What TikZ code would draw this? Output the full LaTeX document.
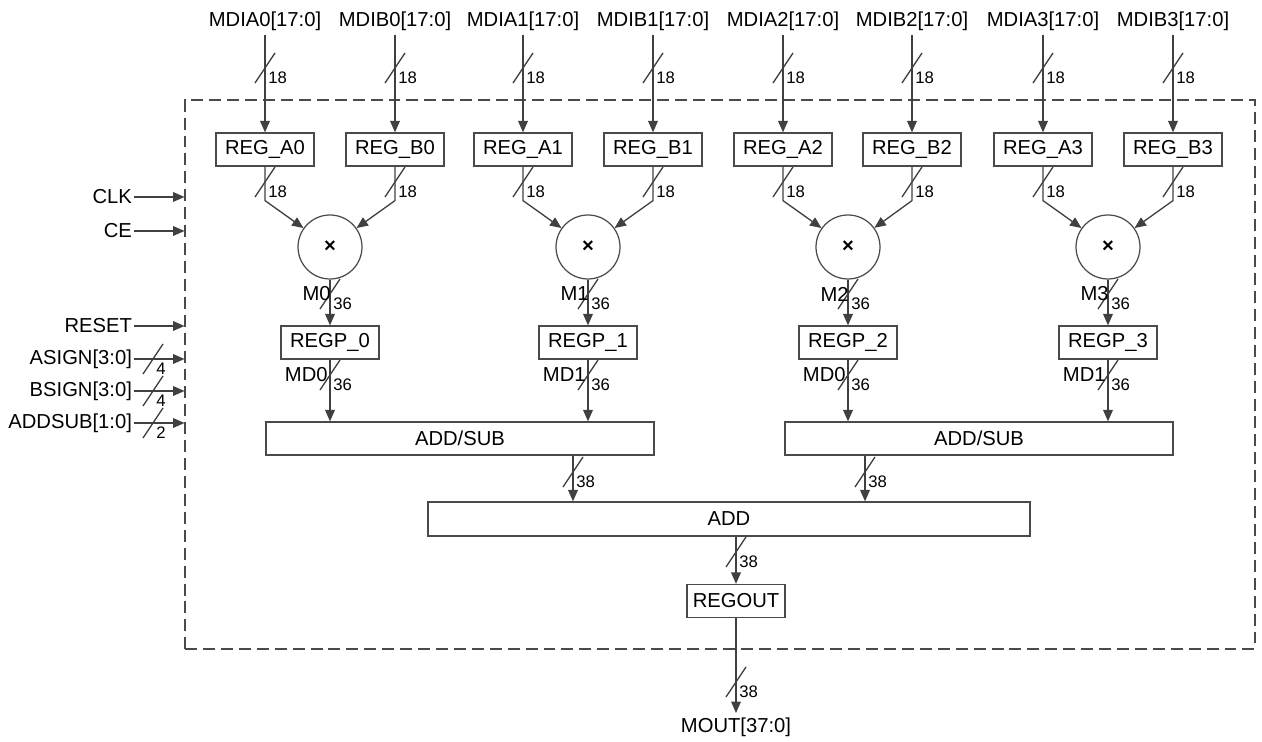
\documentclass[tikz,border=0pt]{standalone}
\usepackage{fontspec}
\setmainfont{Liberation Sans}
\usetikzlibrary{arrows.meta,calc,positioning}
\definecolor{wiregray}{HTML}{404040}
\definecolor{boxgray}{HTML}{4A4A4A}

\tikzset{
  wire/.style={draw=wiregray,line width=0.75pt},
  sig/.style={wire,-{Triangle[length=6.5pt,width=5.5pt]}},
  reg/.style={draw=boxgray,line width=0.7pt,minimum width=1.96cm,minimum height=0.66cm,inner sep=1pt},
  bar/.style={draw=boxgray,line width=0.7pt,minimum height=0.66cm,inner sep=1pt},
  mult/.style={circle,draw=boxgray,line width=0.7pt,minimum size=1.28cm,inner sep=0pt},
  pin/.style={inner sep=2.5pt},
  tag/.style={inner sep=0pt,anchor=east},
  bw/.style={font=\fontsize{9.5}{11}\selectfont,inner sep=0pt,anchor=west},
}
% bus slash with its width: name, x, y, width
\newcommand{\busw}[4]{%
  \draw[wire] (#2-10,#3+15) -- (#2+10,#3-15);
  \node[bw] (#1) at (#2+3,#3+10) {#4};}

\begin{document}
\begin{tikzpicture}[x=0.02cm,y=-0.02cm,font=\fontsize{11.5}{13.5}\selectfont]
  \useasboundingbox (0,0) rectangle (1262,742);

  \node[draw=boxgray,line width=0.7pt,dash pattern=on 6.8pt off 3.4pt,
        minimum width=21.4cm,minimum height=10.98cm,inner sep=0pt] (core) at (720,374.5) {};

  % inputs
  \node[pin,anchor=south] (ina0) at (265,35) {MDIA0[17:0]};
  \node[pin,anchor=south] (inb0) at (395,35) {MDIB0[17:0]};
  \node[pin,anchor=south] (ina1) at (523,35) {MDIA1[17:0]};
  \node[pin,anchor=south] (inb1) at (653,35) {MDIB1[17:0]};
  \node[pin,anchor=south] (ina2) at (783,35) {MDIA2[17:0]};
  \node[pin,anchor=south] (inb2) at (912,35) {MDIB2[17:0]};
  \node[pin,anchor=south] (ina3) at (1043,35) {MDIA3[17:0]};
  \node[pin,anchor=south] (inb3) at (1173,35) {MDIB3[17:0]};

  \node[reg] (rega0) at (265,149.5) {REG\_A0};
  \node[reg] (regb0) at (395,149.5) {REG\_B0};
  \node[reg] (rega1) at (523,149.5) {REG\_A1};
  \node[reg] (regb1) at (653,149.5) {REG\_B1};
  \node[reg] (rega2) at (783,149.5) {REG\_A2};
  \node[reg] (regb2) at (912,149.5) {REG\_B2};
  \node[reg] (rega3) at (1043,149.5) {REG\_A3};
  \node[reg] (regb3) at (1173,149.5) {REG\_B3};

  \node[mult] (mul0) at (330,247) {\textbf{×}};
  \node[mult] (mul1) at (588,247) {\textbf{×}};
  \node[mult] (mul2) at (848,247) {\textbf{×}};
  \node[mult] (mul3) at (1108,247) {\textbf{×}};

  \node[reg] (regp0) at (330,342.5) {REGP\_0};
  \node[reg] (regp1) at (588,342.5) {REGP\_1};
  \node[reg] (regp2) at (848,342.5) {REGP\_2};
  \node[reg] (regp3) at (1108,342.5) {REGP\_3};

  \node[bar,minimum width=7.76cm] (addsub0) at (460,438.5) {ADD/SUB};
  \node[bar,minimum width=7.76cm] (addsub1) at (979,438.5) {ADD/SUB};
  \node[bar,minimum width=12.04cm,minimum height=0.68cm] (add) at (729,519) {ADD};
  \node[reg] (regout) at (736,601) {REGOUT};
  \node[pin,anchor=north] (mout) at (736,713) {MOUT[37:0]};

  % input wires
  \draw[sig] (ina0) -- (rega0);
  \draw[sig] (inb0) -- (regb0);
  \draw[sig] (ina1) -- (rega1);
  \draw[sig] (inb1) -- (regb1);
  \draw[sig] (ina2) -- (rega2);
  \draw[sig] (inb2) -- (regb2);
  \draw[sig] (ina3) -- (rega3);
  \draw[sig] (inb3) -- (regb3);

  \draw[sig] (rega0.south) -- ++(0,34) -- (mul0);
  \draw[sig] (regb0.south) -- ++(0,34) -- (mul0);
  \draw[sig] (rega1.south) -- ++(0,34) -- (mul1);
  \draw[sig] (regb1.south) -- ++(0,34) -- (mul1);
  \draw[sig] (rega2.south) -- ++(0,34) -- (mul2);
  \draw[sig] (regb2.south) -- ++(0,34) -- (mul2);
  \draw[sig] (rega3.south) -- ++(0,34) -- (mul3);
  \draw[sig] (regb3.south) -- ++(0,34) -- (mul3);

  \draw[sig] (mul0) -- (regp0);
  \draw[sig] (mul1) -- (regp1);
  \draw[sig] (mul2) -- (regp2);
  \draw[sig] (mul3) -- (regp3);

  \draw[sig] (regp0) -- (regp0 |- addsub0.north);
  \draw[sig] (regp1) -- (regp1 |- addsub0.north);
  \draw[sig] (regp2) -- (regp2 |- addsub1.north);
  \draw[sig] (regp3) -- (regp3 |- addsub1.north);

  \draw[sig] ([xshift=2.26cm]addsub0.south) -- ([xshift=2.26cm]addsub0.south |- add.north);
  \draw[sig] ([xshift=-2.28cm]addsub1.south) -- ([xshift=-2.28cm]addsub1.south |- add.north);
  \draw[sig] (add.south -| regout) -- (regout);
  \draw[sig] (regout) -- (mout);

  % bus widths
  \busw{wa0}{265}{68}{18} \busw{wb0}{395}{68}{18}
  \busw{wa1}{523}{68}{18} \busw{wb1}{653}{68}{18}
  \busw{wa2}{783}{68}{18} \busw{wb2}{912}{68}{18}
  \busw{wa3}{1043}{68}{18} \busw{wb3}{1173}{68}{18}
  \busw{ra0}{265}{182}{18} \busw{rb0}{395}{182}{18}
  \busw{ra1}{523}{182}{18} \busw{rb1}{653}{182}{18}
  \busw{ra2}{783}{182}{18} \busw{rb2}{912}{182}{18}
  \busw{ra3}{1043}{182}{18} \busw{rb3}{1173}{182}{18}
  \busw{wm0}{330}{294}{36} \busw{wm1}{588}{294}{36}
  \busw{wm2}{848}{294}{36} \busw{wm3}{1108}{294}{36}
  \busw{wp0}{330}{375}{36} \busw{wp1}{588}{375}{36}
  \busw{wp2}{848}{375}{36} \busw{wp3}{1108}{375}{36}
  \busw{ws0}{573}{472}{38} \busw{ws1}{865}{472}{38}
  \busw{wadd}{736}{552}{38} \busw{wout}{736}{682}{38}

  \node[tag] (m0) at (331,294) {M0};
  \node[tag] (m1) at (589,294) {M1};
  \node[tag] (m2) at (849,294) {M2};
  \node[tag] (m3) at (1109,294) {M3};
  \node[tag] (md0) at (328,375) {MD0};
  \node[tag] (md1) at (586,375) {MD1};
  \node[tag] (md2) at (846,375) {MD0};
  \node[tag] (md3) at (1106,375) {MD1};

  % control inputs
  \node[tag,inner sep=1pt] (clk) at (134,197) {CLK};
  \node[tag,inner sep=1pt] (ce) at (134,231) {CE};
  \node[tag,inner sep=1pt] (reset) at (134,326) {RESET};
  \node[tag,inner sep=1pt] (asign) at (134,359) {ASIGN[3:0]};
  \node[tag,inner sep=1pt] (bsign) at (134,391) {BSIGN[3:0]};
  \node[tag,inner sep=1pt] (addsub) at (134,423) {ADDSUB[1:0]};
  \draw[sig] (clk) -- (clk -| core.west);
  \draw[sig] (ce) -- (ce -| core.west);
  \draw[sig] (reset) -- (reset -| core.west);
  \draw[sig] (asign) -- (asign -| core.west);
  \draw[sig] (bsign) -- (bsign -| core.west);
  \draw[sig] (addsub) -- (addsub -| core.west);
  \busw{wasign}{153}{359}{4}
  \busw{wbsign}{153}{391}{4}
  \busw{waddsub}{153}{423}{2}
\end{tikzpicture}
\end{document}
